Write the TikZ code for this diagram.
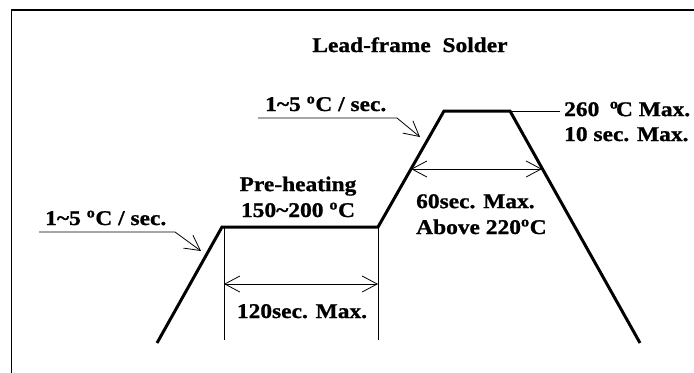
\documentclass[tikz,border=0pt]{standalone}
\usepackage{fontspec}
\setmainfont{Liberation Serif}[FakeStretch=1.12,BoldFeatures={FakeBold=1}]
\usetikzlibrary{arrows.meta}

\begin{document}
\begin{tikzpicture}[%
    x=1bp,
    y=-1bp,
    >={Straight Barb[length=15bp,width=16bp]},
    curve/.style={%
      line width=3pt},
    guide/.style={%
      line width=.8pt},
    txt/.style={%
      inner sep=0pt,
      align=left,
      font=\fontsize{21}{25}\selectfont\bfseries}
    ]
    \useasboundingbox (0,0) rectangle (694,372);
    \draw[line width=2pt] (11.5,10) rectangle (720,400);
    \coordinate (p0) at (157,343);
    \coordinate (p1) at (222,227);
    \coordinate (p2) at (378,227);
    \coordinate (p3) at (444,111);
    \coordinate (p4) at (510,111);
    \coordinate (p5) at (640,343);
    \draw[curve] (p0) -- (p1) -- (p2) -- (p3) -- (p4) -- (p5);
    \coordinate (a1) at (224,227);
    \coordinate (a2) at (224,340);
    \coordinate (b1) at (378,227);
    \coordinate (b2) at (378,340);
    \draw[guide] (a1) -- (a2) (b1) -- (b2);
    \coordinate (c1) at (224,284);
    \coordinate (c2) at (378,284);
    \draw[guide,<->] (c1) -- (c2);
    \coordinate (d1) at (411,169);
    \coordinate (d2) at (542,169);
    \draw[guide,<->] (d1) -- (d2);
    \coordinate (u1) at (258,118);
    \coordinate (u2) at (397,118);
    \coordinate (u3) at (420,137);
    \draw[guide,->] (u1) -- (u2) -- (u3);
    \coordinate (l1) at (39,232);
    \coordinate (l2) at (175,232);
    \coordinate (l3) at (201,251);
    \draw[guide,->] (l1) -- (l2) -- (l3);
    \coordinate (m1) at (560,111);
    \draw[guide] (p4) -- (m1);
    \node[txt,anchor=base] (title) at (410,52) {Lead-frame\ \ Solder};
    \node[txt,anchor=base west] (rate1) at (45,225) {1\textasciitilde5 \textsuperscript{o}C / sec.};
    \node[txt,anchor=base west] (rate2) at (265,111) {1\textasciitilde5 \textsuperscript{o}C / sec.};
    \node[txt,anchor=base,align=center] (pre) at (298,217) {Pre-heating\\[1pt]150\textasciitilde200 \textsuperscript{o}C};
    \node[txt,anchor=base] (t120) at (302,318) {120sec. Max.};
    \node[txt,anchor=base west] (t60) at (416,234) {60sec. Max.\\[1pt]Above 220\textsuperscript{o}C};
    \node[txt,anchor=base west] (peak) at (564,141) {260\hspace{.5em}\textsuperscript{o}\kern-.12em C Max.\\10 sec. Max.};
  \end{tikzpicture}
\end{document}
